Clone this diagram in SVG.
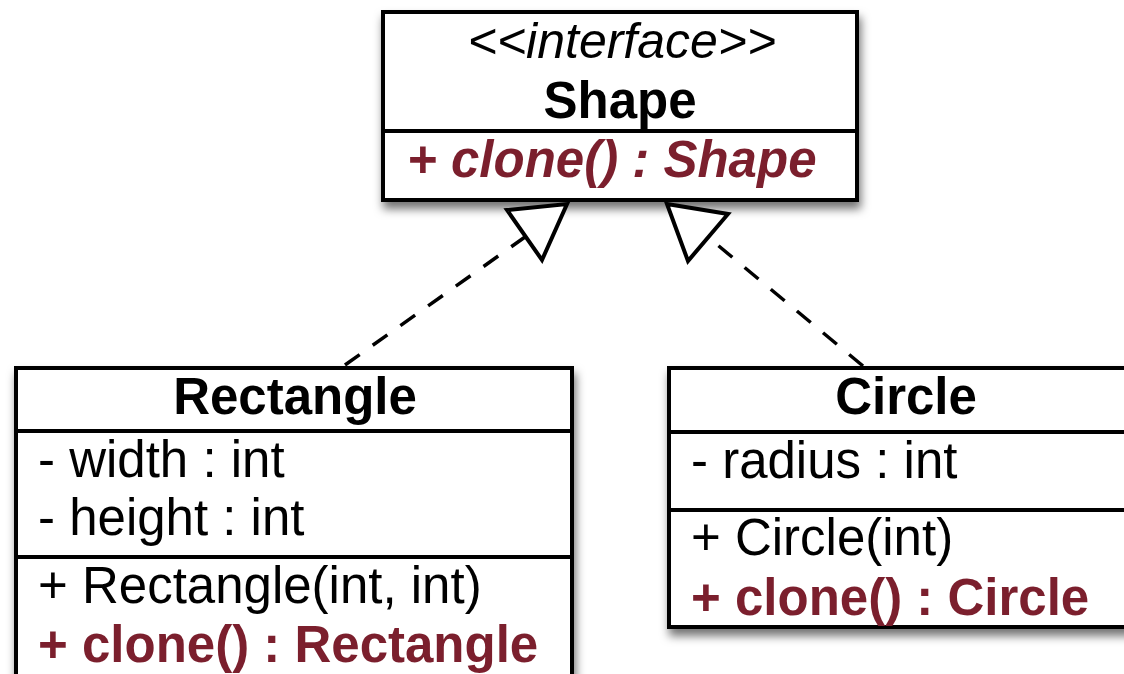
<svg xmlns="http://www.w3.org/2000/svg" width="1124" height="674" viewBox="0 0 1124 674">
  <defs>
    <filter id="shadow" x="-10%" y="-10%" width="125%" height="135%">
      <feDropShadow dx="2" dy="7" stdDeviation="5" flood-color="#000" flood-opacity="0.55"/>
    </filter>
    <style>
      .box { fill: #fff; stroke: #000; stroke-width: 4; filter: url(#shadow); }
      .sep { stroke: #000; stroke-width: 4; fill: none; }
      text { font-family: "Liberation Sans", Arial, Helvetica, sans-serif; font-size: 51px; fill: #000; }
      .title { font-weight: bold; text-anchor: middle; }
      .stereo { font-style: italic; text-anchor: middle; font-size: 50px; }
      .op { font-weight: bold; fill: #7b1f2d; }
      .abstract { font-style: italic; }
      .dash { stroke: #000; stroke-width: 3.5; fill: none; stroke-dasharray: 18 16; }
      .head { fill: #fff; stroke: #000; stroke-width: 4; stroke-linejoin: miter; }
    </style>
  </defs>

  <rect width="1124" height="674" fill="#fff"/>

  <!-- interface Shape -->
  <g id="shape">
    <rect class="box" x="383" y="12" width="474" height="188"/>
    <line class="sep" x1="383" y1="131" x2="857" y2="131"/>
    <text class="stereo" x="622" y="58">&lt;&lt;interface&gt;&gt;</text>
    <text class="title" x="620" y="118">Shape</text>
    <text class="op abstract" x="407" y="177">+ clone() : Shape</text>
  </g>

  <!-- class Rectangle -->
  <g id="rectangle">
    <rect class="box" x="16" y="368" width="556" height="330"/>
    <line class="sep" x1="16" y1="431" x2="572" y2="431"/>
    <line class="sep" x1="16" y1="557" x2="572" y2="557"/>
    <text class="title" x="295" y="414">Rectangle</text>
    <text x="38" y="477">- width : int</text>
    <text x="38" y="535">- height : int</text>
    <text x="38" y="603">+ Rectangle(int, int)</text>
    <text class="op" x="38" y="662">+ clone() : Rectangle</text>
  </g>

  <!-- class Circle -->
  <g id="circle">
    <rect class="box" x="669" y="368" width="474" height="259"/>
    <line class="sep" x1="669" y1="432" x2="1143" y2="432"/>
    <line class="sep" x1="669" y1="510" x2="1143" y2="510"/>
    <text class="title" x="906" y="414">Circle</text>
    <text x="691" y="478">- radius : int</text>
    <text x="691" y="555">+ Circle(int)</text>
    <text class="op" x="691" y="615">+ clone() : Circle</text>
  </g>

  <!-- realization connectors -->
  <g id="connectors">
    <line class="dash" x1="345" y1="365" x2="525" y2="237"/>
    <polygon class="head" points="507,210 567,204 542,260"/>
    <line class="dash" x1="863" y1="366" x2="708" y2="237"/>
    <polygon class="head" points="667,204 728,214 688,261"/>
  </g>
</svg>
